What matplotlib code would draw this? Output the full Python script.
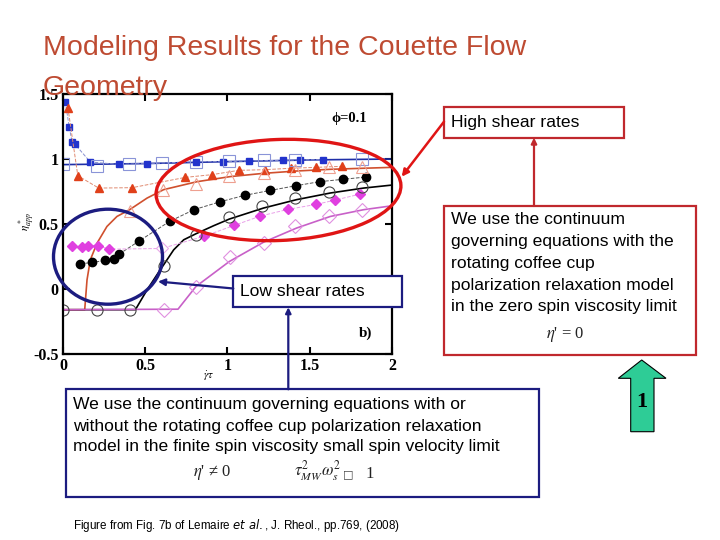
import numpy as np
import matplotlib.pyplot as plt
from matplotlib.patches import Ellipse, Rectangle, Polygon

# ---- data (x = gamma_dot*tau, y = eta*_app) ----
blue_fill_x = [0.014, 0.038, 0.055, 0.071, 0.166, 0.34, 0.51, 0.81, 0.97, 1.13, 1.34, 1.44, 1.58]
blue_fill_y = [1.436, 1.241, 1.131, 1.113, 0.974, 0.956, 0.962, 0.977, 0.977, 0.982, 0.987, 0.99, 0.992]
blue_open_x = [0.0, 0.207, 0.40, 0.60, 0.81, 1.01, 1.22, 1.41, 1.82]
blue_open_y = [0.959, 0.946, 0.962, 0.969, 0.977, 0.985, 0.99, 0.992, 0.997]
blue_line_x = [0.0, 0.5, 1.0, 1.5, 2.0]
blue_line_y = [0.954, 0.962, 0.977, 0.99, 0.997]

red_fill_x = [0.03, 0.09, 0.217, 0.42, 0.744, 0.906, 1.068, 1.226, 1.384, 1.538, 1.694]
red_fill_y = [1.39, 0.869, 0.774, 0.777, 0.856, 0.877, 0.91, 0.915, 0.926, 0.933, 0.941]
red_open_x = [0.405, 0.61, 0.81, 1.01, 1.22, 1.41, 1.615, 1.82]
red_open_y = [0.595, 0.762, 0.808, 0.864, 0.89, 0.91, 0.936, 0.936]
red_line_x = [0.0, 0.132, 0.146, 0.166, 0.207, 0.267, 0.328, 0.405, 0.511, 0.612, 0.815, 1.017, 1.22, 1.42, 1.625, 2.0]
red_line_y = [-0.16, -0.16, 0.069, 0.223, 0.351, 0.479, 0.556, 0.608, 0.697, 0.762, 0.823, 0.862, 0.887, 0.905, 0.918, 0.933]

blk_fill_x = [0.105, 0.178, 0.255, 0.308, 0.338, 0.462, 0.648, 0.796, 0.956, 1.104, 1.26, 1.416, 1.56, 1.70, 1.844]
blk_fill_y = [0.192, 0.203, 0.218, 0.228, 0.264, 0.367, 0.518, 0.608, 0.669, 0.718, 0.756, 0.792, 0.823, 0.841, 0.859]
blk_open_x = [0.0, 0.207, 0.405, 0.612, 0.81, 1.01, 1.21, 1.41, 1.615, 1.82]
blk_open_y = [-0.162, -0.162, -0.162, 0.177, 0.415, 0.549, 0.638, 0.697, 0.744, 0.779]
blk_line_x = [0.0, 0.44, 0.511, 0.571, 0.612, 0.673, 0.734, 0.808, 0.916, 1.011, 1.22, 1.42, 1.625, 1.828, 2.0]
blk_line_y = [-0.16, -0.16, -0.008, 0.108, 0.185, 0.30, 0.377, 0.423, 0.485, 0.536, 0.621, 0.685, 0.736, 0.774, 0.797]

mag_fill_x = [0.055, 0.116, 0.15, 0.21, 0.28, 0.60, 0.855, 1.04, 1.2, 1.366, 1.54, 1.655, 1.807]
mag_fill_y = [0.333, 0.318, 0.333, 0.333, 0.305, 0.31, 0.403, 0.487, 0.559, 0.61, 0.649, 0.682, 0.728]
mag_open_x = [0.612, 0.81, 1.017, 1.22, 1.41, 1.615, 1.82]
mag_open_y = [-0.16, 0.013, 0.244, 0.356, 0.479, 0.556, 0.603]
mag_line_x = [0.0, 0.699, 0.808, 1.011, 1.22, 1.42, 1.625, 1.828, 2.0]
mag_line_y = [-0.16, -0.156, 0.018, 0.21, 0.359, 0.467, 0.556, 0.608, 0.638]

xticks = [0, 0.5, 1, 1.5, 2]
xtick_labels = ['0', '0.5', '1', '1.5', '2']
yticks = [-0.5, 0, 0.5, 1, 1.5]
ytick_labels = ['-0.5', '0', '0.5', '1', '1.5']

red_box_lines = ['We use the continuum', 'governing equations with the', 'rotating coffee cup',
                 'polarization relaxation model', 'in the zero spin viscosity limit']
blue_box_lines = ['We use the continuum governing equations with or',
                  'without the rotating coffee cup polarization relaxation',
                  'model in the finite spin viscosity small spin velocity limit']

fig = plt.figure(figsize=(7.2, 5.4), dpi=100)
W, H = 720, 540
ax = fig.add_axes([63 / W, 1 - 354 / H, (392 - 63) / W, (354 - 93.5) / H])

BLUE = '#2233cc'
RED = '#e0401a'
REDL = '#d0502e'
MAG = '#e040e0'
MAGL = '#c860c8'

ax.plot(blue_line_x, blue_line_y, '-', color='#1f2fa8', lw=1.2)
ax.plot(red_line_x, red_line_y, '-', color=REDL, lw=1.2)
ax.plot(blk_line_x, blk_line_y, '-', color='black', lw=1.2)
ax.plot(mag_line_x, mag_line_y, '-', color=MAGL, lw=1.2)

ax.plot(blue_fill_x, blue_fill_y, '--', color='#8890d0', lw=0.7, marker='s', ms=5, mfc=BLUE, mec=BLUE)
ax.plot(red_fill_x, red_fill_y, '--', color='#e08a70', lw=0.7, marker='^', ms=6, mfc=RED, mec=RED)
ax.plot(blk_fill_x, blk_fill_y, '--', color='#555555', lw=0.7, marker='o', ms=6, mfc='black', mec='black')
keep = [i for i in range(len(mag_fill_x)) if i != 5]
ax.plot(mag_fill_x, mag_fill_y, '--', color='#e9a0e9', lw=0.7, marker='D', ms=5,
        mfc=MAG, mec=MAG, markevery=keep)
ax.plot(mag_fill_x[5:6], mag_fill_y[5:6], 'D', ms=6, mfc='white', mec='#e8a8e8', mew=0.8)

ax.plot(blue_open_x, blue_open_y, 's', ms=8, mfc='none', mec='#8a94d8', mew=0.8)
ax.plot(red_open_x, red_open_y, '^', ms=8, mfc='none', mec='#eea090', mew=0.8)
ax.plot(blk_open_x, blk_open_y, 'o', ms=8, mfc='none', mec='#444444', mew=0.8)
ax.plot(mag_open_x, mag_open_y, 'D', ms=7, mfc='none', mec='#e090e0', mew=0.8)

ax.set_xlim(0, 2)
ax.set_ylim(-0.5, 1.5)
ax.set_xticks(xticks)
ax.set_xticklabels(xtick_labels)
ax.set_yticks(yticks)
ax.set_yticklabels(ytick_labels)
ax.tick_params(direction='in', length=5, width=1.5, top=True, right=True, pad=3)
for lab in ax.get_xticklabels() + ax.get_yticklabels():
    lab.set_family('Liberation Serif')
    lab.set_weight('bold')
    lab.set_fontsize(11.5)
for s in ax.spines.values():
    s.set_linewidth(1.6)

ax.text(0.87, 0.905, '\u03d5=0.1', transform=ax.transAxes, ha='center', va='center',
        family='Liberation Serif', weight='bold', fontsize=10.5)
ax.text(0.92, 0.08, 'b)', transform=ax.transAxes, ha='center', va='center',
        family='Liberation Serif', weight='bold', fontsize=11)

# ---- slide overlay in pixel coordinates ----
ov = fig.add_axes([0, 0, 1, 1], zorder=5)
ov.set_xlim(0, W)
ov.set_ylim(H, 0)
ov.axis('off')
ov.patch.set_alpha(0)

ov.text(27, 222, r'$\eta^*_{app}$', rotation=90, ha='center', va='center', fontsize=8, math_fontfamily='stix')
ov.text(209, 376, r'$\dot{\gamma}\tau$', ha='center', va='center', fontsize=8, math_fontfamily='stix')

TITLE = '#be4b32'
ov.text(43, 55, 'Modeling Results for the Couette Flow', color=TITLE, fontsize=20.5,
        family='Liberation Sans', va='baseline')
ov.text(43, 95, 'Geometry', color=TITLE, fontsize=20.5, family='Liberation Sans', va='baseline')

NAVY = '#1c1c80'
BRED = '#c0282d'
ov.add_patch(Ellipse((278.5, 190), 245, 101, angle=-2.3, fill=False, ec='#e01515', lw=2.4))
ov.add_patch(Ellipse((108, 256.7), 109, 95, fill=False, ec=NAVY, lw=2.4))

TS = 12.6

# low shear rates
ov.add_patch(Rectangle((233.3, 276), 168.7, 31.3, fc='white', ec=NAVY, lw=1.6))
ov.text(240, 292, 'Low shear rates', family='Liberation Sans', fontsize=TS, va='center')
ov.annotate('', xy=(158, 281.5), xytext=(233.3, 288.5),
            arrowprops=dict(arrowstyle='-|>', color=NAVY, lw=1.6, mutation_scale=10, shrinkA=0, shrinkB=0))
ov.annotate('', xy=(288.3, 307.3), xytext=(288.3, 389.3),
            arrowprops=dict(arrowstyle='-|>', color=NAVY, lw=1.6, mutation_scale=8, shrinkA=0, shrinkB=0))

# bottom box
ov.add_patch(Rectangle((66, 389.3), 473.3, 107.4, fc='white', ec=NAVY, lw=1.6))
for i, line in enumerate(blue_box_lines):
    ov.text(73, 405 + i * 21, line, family='Liberation Sans', fontsize=TS, va='center')
ov.text(212, 473, r"$\eta$" + "' \u2260 0", ha='center', va='center', fontsize=12,
        family='Liberation Serif', math_fontfamily='stix', color='#222222')
ov.text(318, 471, r"$\tau^2_{MW}\omega^2_s$", ha='center', va='center', fontsize=12, math_fontfamily='stix', color='#222222')
ov.text(348, 474, '\u25a1', ha='center', va='center', fontsize=8, family='DejaVu Sans', color='#444444')
ov.text(370, 474, '1', ha='center', va='center', fontsize=12, family='Liberation Serif', color='#222222')

ov.text(73, 525, 'Figure from Fig. 7b of Lemaire ' + r'$\mathit{et\ al.}$' + ', J. Rheol., pp.769, (2008)',
        family='Liberation Sans', fontsize=8.4, va='center', math_fontfamily='dejavusans')

# high shear rates
ov.add_patch(Rectangle((444, 106.7), 180, 31, fc='white', ec=BRED, lw=1.6))
ov.text(451, 122.5, 'High shear rates', family='Liberation Sans', fontsize=TS, va='center')
ov.annotate('', xy=(401.7, 176.7), xytext=(444, 121.7),
            arrowprops=dict(arrowstyle='-|>', color='#e01515', lw=1.8, mutation_scale=10, shrinkA=0, shrinkB=0))

ov.add_patch(Rectangle((444, 206), 252, 149, fc='white', ec=BRED, lw=1.6))
for i, line in enumerate(red_box_lines):
    ov.text(451, 220 + i * 21.7, line, family='Liberation Sans', fontsize=TS, va='center')
ov.text(565, 335, r"$\eta$" + "' = 0", ha='center', va='center', fontsize=12,
        family='Liberation Serif', math_fontfamily='stix', color='#222222')
ov.annotate('', xy=(534, 137.7), xytext=(534, 206),
            arrowprops=dict(arrowstyle='-|>', color=BRED, lw=1.6, mutation_scale=8, shrinkA=0, shrinkB=0))

# green arrow
ov.add_patch(Polygon([(641.7, 360), (618.3, 378.3), (630.7, 378.3), (630.7, 431.7),
                      (654, 431.7), (654, 378.3), (666, 378.3)], closed=True,
                     fc='#2ecc96', ec='black', lw=0.8))
ov.text(642, 402, '1', ha='center', va='center', family='Liberation Serif', weight='bold', fontsize=16)

fig.savefig('out.png', dpi=100)
